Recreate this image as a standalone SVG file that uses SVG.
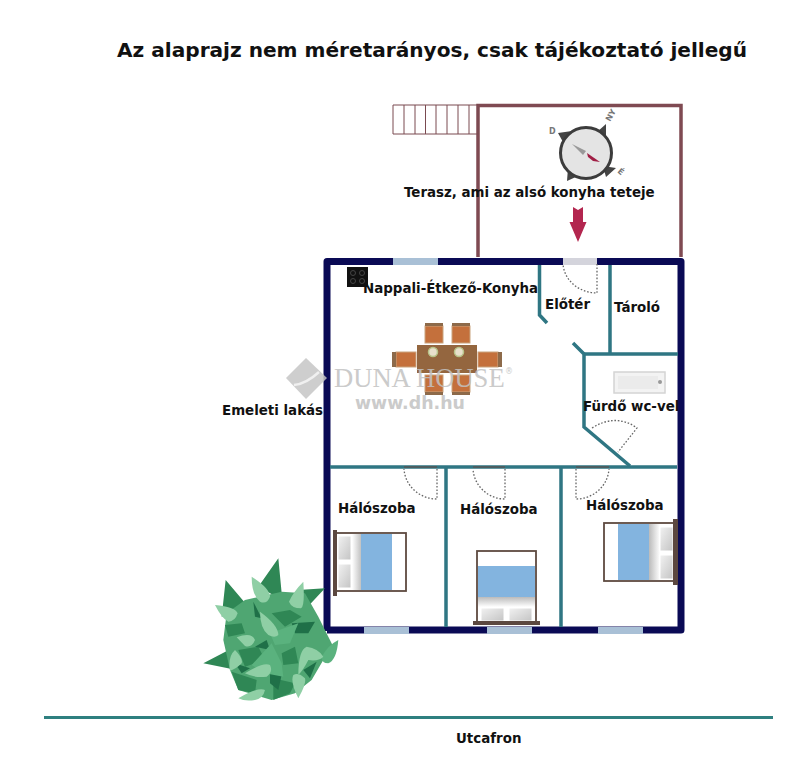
<svg xmlns="http://www.w3.org/2000/svg" width="797" height="768" viewBox="0 0 797 768">
<style>
text{font-family:"DejaVu Sans",sans-serif;font-weight:700;fill:#111;font-size:13.4px}
.title{font-size:20.1px}
.wall{stroke:#0a0a55;stroke-width:7;fill:none;stroke-linejoin:round}
.in{stroke:#2f7683;stroke-width:3.5;fill:none}
.terr{stroke:#7f4a52;stroke-width:3.5;fill:none}
.win{fill:#a9c0d6}
.dot{stroke:#666;stroke-width:1.3;stroke-dasharray:1.6 1.8;fill:none}
.thr{stroke:#555;stroke-width:1.5;fill:none}
.wood{fill:#c4703c;stroke:#c9a47e;stroke-width:1}
.dk{fill:#8d6a4a}
.bed{fill:#fff;stroke:#5e4a40;stroke-width:1.8}
.blue{fill:#83b4df}
.head{fill:#5c4840}
.pil{fill:url(#pil);stroke:#fff;stroke-width:1}
.d{fill:#2f8755}.m{fill:#4fa672}.m2{fill:#5ab27e}.e{fill:#1f7048}.l{fill:#8fcfa5}
.wm{font-family:"Liberation Serif",serif;font-weight:400;fill:#c2c2c2;font-size:26.600px}
.wm2{font-weight:700;fill:#c2c2c2;font-size:17.400px}
.wm3{font-weight:400;fill:#c2c2c2;font-size:8px}
.cm{font-size:8px;fill:#777}
</style>
<defs>
<linearGradient id="fadeR"><stop offset="0" stop-color="#fff"/><stop offset="1" stop-color="#bbb"/></linearGradient>
<linearGradient id="fadeL"><stop offset="0" stop-color="#bbb"/><stop offset="1" stop-color="#fff"/></linearGradient>
<linearGradient id="fadeD" x1="0" y1="0" x2="0" y2="1"><stop offset="0" stop-color="#bbb"/><stop offset="1" stop-color="#fff"/></linearGradient>
<linearGradient id="pil" x1="0" y1="0" x2="1" y2="1"><stop offset="0" stop-color="#f2f2f2"/><stop offset="1" stop-color="#c4c4c4"/></linearGradient>
</defs>
<rect width="797" height="768" fill="#fff"/>
<text class="title" x="117" y="57">Az alaprajz nem méretarányos, csak tájékoztató jellegű</text>

<g id="terrace">
<path class="terr" d="M478 257V105.500H681V257"/>
<path d="M393 105H478V134H393Z M404 105V134 M415 105V134 M425.500 105V134 M436 105V134 M447 105V134 M458 105V134 M469 105V134" fill="none" stroke="#7a4a50" stroke-width="1"/>
</g>
<g id="compass">
<path d="M558 133L572 131L563 142Z M606 124L597 132L606 141Z M616 168L603 166L606 177Z M567 181L568 168L578 176Z" fill="#444"/>
<circle cx="586" cy="153" r="25.500" fill="#e4e4e4" stroke="#3c3c3c" stroke-width="3"/>
<path d="M572 144L586 151L583 155Z" fill="#999"/>
<path d="M587 153L600 162L593 161L588 157Z" fill="#a01e45"/>
<text class="cm" x="549" y="134">D</text>
<text class="cm" x="0" y="0" transform="translate(610 122) rotate(-60)">NY</text>
<text class="cm" x="0" y="0" transform="translate(617 172) rotate(40)">É</text>
</g>
<path id="red-arrow" d="M573 207L578 210L583 207V222H586.500L578 242L569.500 222H573Z" fill="#b3264f"/>

<g id="walls">
<path class="wall" d="M327 631V261.500H681V630H327"/>
<rect class="win" x="393" y="258" width="45" height="7"/>
<rect x="563" y="258" width="34" height="7" fill="#d4d4dc"/>
<rect class="win" x="364" y="627" width="45" height="7"/>
<rect class="win" x="487" y="627" width="45" height="7"/>
<rect class="win" x="598" y="627" width="45" height="7"/>
</g>
<g id="inner-walls">
<path class="in" d="M539.500 265V315L547 323"/>
<path class="in" d="M573 343L584 354V427L630 466"/>
<path class="in" d="M610 265V354 M584 354H678"/>
<path class="in" d="M330 467H677 M446 467V627 M561 467V627"/>
</g>
<g id="doors">
<path class="dot" d="M597 264V293A34 31 0 0 1 563 264"/>
<path class="dot" d="M437 469V499A33 32 0 0 1 404 469"/>
<path class="dot" d="M505 469V499A32 32 0 0 1 473 469"/>
<path class="dot" d="M576 469V499A33 32 0 0 0 609 469"/>
<path class="dot" d="M592 428Q616 413 637 428L618 452"/>
<path class="thr" d="M404 467H437 M473 467H505 M576 467H609"/>
</g>

<g id="kitchen">
<rect x="347" y="267" width="21" height="20" fill="#111"/>
<circle cx="353" cy="273" r="2.500" fill="none" stroke="#444"/><circle cx="362" cy="273" r="2.500" fill="none" stroke="#444"/><circle cx="353" cy="281" r="2.500" fill="none" stroke="#444"/><circle cx="362" cy="281" r="2.500" fill="none" stroke="#444"/>
<g id="table">
<rect class="wood" x="425" y="326" width="18" height="17"/><rect class="dk" x="425" y="323" width="18" height="3"/>
<rect class="wood" x="452" y="326" width="18" height="17"/><rect class="dk" x="452" y="323" width="18" height="3"/>
<rect class="wood" x="425" y="375" width="18" height="17"/><rect class="dk" x="425" y="392" width="18" height="3"/>
<rect class="wood" x="452" y="375" width="18" height="17"/><rect class="dk" x="452" y="392" width="18" height="3"/>
<rect class="wood" x="396" y="352" width="20" height="15"/><rect class="dk" x="392" y="352" width="4" height="15"/>
<rect class="wood" x="478" y="352" width="20" height="15"/><rect class="dk" x="498" y="352" width="4" height="15"/>
<rect x="417" y="345" width="60" height="28" fill="#94663f"/>
<circle cx="433" cy="352" r="4.500" fill="#e8e0cc" stroke="#b8c48a" stroke-width="1.500"/>
<circle cx="459" cy="352" r="4.500" fill="#e8e0cc" stroke="#b8c48a" stroke-width="1.500"/>
</g>
</g>

<g id="watermark" opacity=".85">
<path d="M306 358L327 378L306 399L286 378Z" fill="#c6c6c6"/>
<path d="M294 385Q306 384 319 372" stroke="#eee" stroke-width="2.500" fill="none"/>
<text class="wm" x="334" y="387">DUNA HOUSE</text>
<text class="wm3" x="505" y="374">®</text>
<text class="wm2" x="355" y="409">www.dh.hu</text>
</g>

<g id="bath">
<rect x="614" y="372" width="51" height="21" fill="#f3f3f3" stroke="#d4d4d4" stroke-width="1.500"/>
<rect x="618" y="376" width="40" height="13" fill="#ebebeb"/>
<circle cx="660" cy="382" r="2" fill="#999"/>
</g>

<g id="bed1">
<rect class="bed" x="336" y="533" width="70" height="58"/>
<rect x="352" y="534" width="10" height="56" fill="url(#fadeR)"/>
<rect class="blue" x="361" y="534" width="31" height="56"/>
<rect class="pil" x="338" y="536" width="13" height="24"/><rect class="pil" x="338" y="564" width="13" height="24"/>
<rect class="head" x="333" y="530" width="4" height="66"/>
</g>
<g id="bed2">
<rect class="bed" x="477" y="551" width="59" height="71"/>
<rect class="blue" x="478" y="566" width="57" height="31"/>
<rect x="478" y="597" width="57" height="10" fill="url(#fadeD)"/>
<rect class="pil" x="481" y="608" width="23" height="13"/><rect class="pil" x="509" y="608" width="23" height="13"/>
<rect class="head" x="473" y="621" width="67" height="4"/>
</g>
<g id="bed3">
<rect class="bed" x="604" y="523" width="71" height="58"/>
<rect class="blue" x="618" y="524" width="31" height="56"/>
<rect x="649" y="524" width="11" height="56" fill="url(#fadeL)"/>
<rect class="pil" x="660" y="527" width="13" height="24"/><rect class="pil" x="660" y="555" width="13" height="24"/>
<rect class="head" x="673" y="519" width="5" height="66"/>
</g>

<g id="plant" transform="translate(195 550) scale(.3333)">
<path class="d" d="M250 25L262 150L190 110Z M92 90L160 170L80 200Z M390 115L320 190L310 120Z M25 340L120 290L125 360Z"/>
<path class="m" d="M150 150L260 125L330 130L370 200L400 260L420 300L385 330L350 390L300 430L230 450L130 420L105 360L85 270L95 190Z"/>
<path class="d" d="M90 225L140 220L150 250L100 260Z M230 190L285 180L320 200L270 230Z M130 300L190 290L210 330L150 350Z M260 310L300 290L310 340L265 345Z M235 385L300 400L285 430L235 450Z M110 365L185 390L180 430L130 420Z"/>
<path class="e" d="M290 220L360 215L340 250L300 250Z M325 360L365 335L345 385Z M175 155L200 205L180 200Z M225 370L260 375L250 420L225 400Z M120 340L165 355L140 370Z M180 290L215 270L225 300Z"/>
<path class="m2" d="M230 280L260 340L265 380L210 370L170 345Z M225 250L310 220L285 280L240 285Z"/>
<path class="m2" d="M430 270Q425 330 400 340Q380 340 380 320Q400 285 430 270Z"/>
<path class="l" d="M170 80Q225 115 225 140Q215 165 195 155Q170 135 170 80Z M325 95Q330 170 318 175Q290 175 282 155Q295 125 325 95Z M60 165Q120 170 128 190Q120 215 100 215Q80 205 60 165Z M195 185Q250 225 250 255Q240 265 220 255Q195 235 195 185Z M125 262Q170 245 180 270Q170 295 150 288Z M120 300Q145 325 140 340Q120 360 105 362Q98 320 120 300Z M310 375Q310 300 335 290Q370 295 385 320Q370 335 340 330Q325 360 310 375Z M150 370Q205 335 225 345Q235 365 215 380Q180 385 150 370Z M310 445Q335 400 330 385Q310 365 295 375Q285 395 310 445Z M130 445Q190 410 210 420Q205 445 180 450Q150 455 130 445Z"/>
</g>

<path id="street" d="M44 717.500H773" stroke="#2f8080" stroke-width="3" fill="none"/>

<g id="labels">
<text x="404" y="197">Terasz, ami az alsó konyha teteje</text>
<text x="363" y="293">Nappali-Étkező-Konyha</text>
<text x="545" y="309">Előtér</text>
<text x="614" y="312">Tároló</text>
<text x="583" y="411">Fürdő wc-vel</text>
<text x="222" y="415">Emeleti lakás</text>
<text x="338" y="513">Hálószoba</text>
<text x="460" y="514">Hálószoba</text>
<text x="586" y="510">Hálószoba</text>
<text x="456" y="743">Utcafron</text>
</g>
</svg>
